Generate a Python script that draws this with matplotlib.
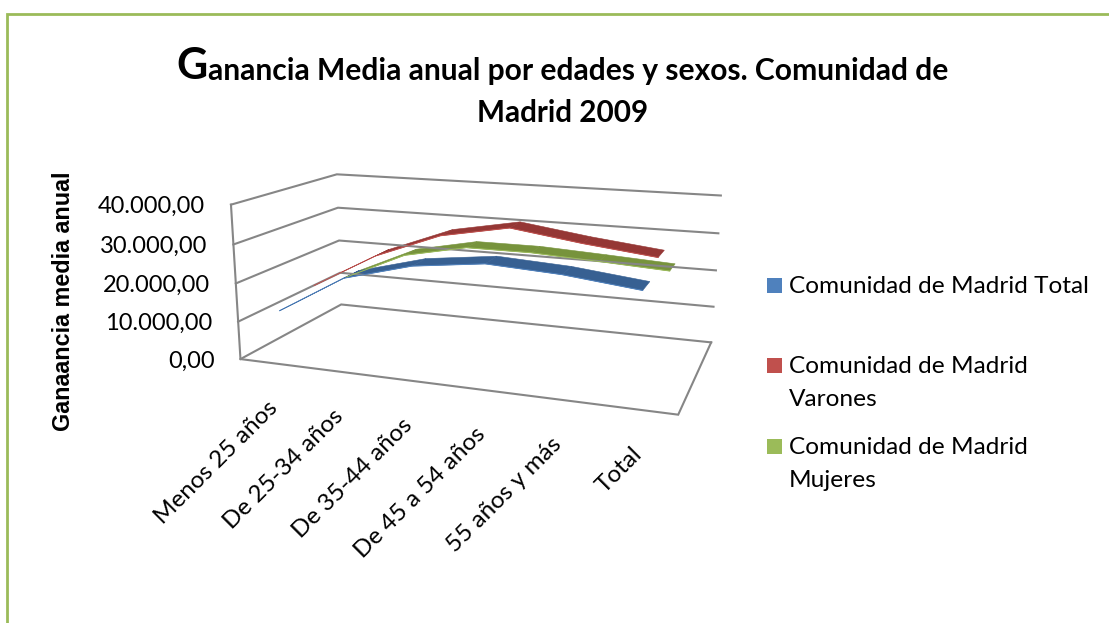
import numpy as np
import matplotlib
matplotlib.use("Agg")
import matplotlib.pyplot as plt
from matplotlib.patches import Rectangle

# chart values
categories = ['Menos 25 años', 'De 25-34 años', 'De 35-44 años',
              'De 45 a 54 años', '55 años y más', 'Total']
madrid_total = [13800, 23700, 28200, 30200, 29200, 27200]
madrid_varones = [16000, 25400, 32000, 35200, 32700, 30700]
madrid_mujeres = [14000, 21700, 25200, 25200, 24300, 23300]
value_ticks = [0, 10000, 20000, 30000, 40000]
tick_labels = ['0,00', '10.000,00', '20.000,00', '30.000,00', '40.000,00']
VMAX = 40000

W, H = 1109, 623
GREY = '#868686'

# camera: pixel position of known box points (x along axis, depth, value/VMAX)
box_world = [(0, 0, 0), (0, 0, .25), (0, 0, .5), (0, 0, .75), (0, 0, 1),
             (0, 1, 0), (0, 1, .25), (0, 1, .5), (0, 1, .75), (0, 1, 1),
             (1, 1, 0), (1, 1, .25), (1, 1, .5), (1, 1, .75), (1, 1, 1),
             (1, 0, 0)]
box_pixel = [(240, 360), (239, 321), (236, 283), (234, 244), (230, 205),
             (341, 304), (340, 273), (339, 241), (338, 208), (337, 174),
             (711, 342), (714, 307), (716, 270), (718, 233), (721, 196),
             (678, 415)]


def fit_camera(world, pixel):
    """Direct linear transform, gives the 3x4 perspective matrix."""
    rows = []
    for (a, b, c), (u, v) in zip(world, pixel):
        rows.append([a, b, c, 1, 0, 0, 0, 0, -u*a, -u*b, -u*c, -u])
        rows.append([0, 0, 0, 0, a, b, c, 1, -v*a, -v*b, -v*c, -v])
    _, _, vt = np.linalg.svd(np.array(rows, dtype=float))
    return vt[-1].reshape(3, 4)


CAM = fit_camera(box_world, box_pixel)


def project(x, depth, value):
    p = CAM @ np.array([x, depth, value / VMAX, 1.0])
    return p[0] / p[2], p[1] / p[2]


fig = plt.figure(figsize=(W / 100, H / 100), dpi=100)
ax = fig.add_axes([0, 0, 1, 1])
ax.set_xlim(0, W)
ax.set_ylim(H, 0)
ax.axis('off')

# chart border
ax.plot([7, 7, W + 5], [H + 5, 13.5, 13.5], color='#9bbb59', lw=2, solid_joinstyle='miter')

# title
ax.text(176, 79, 'G', fontsize=31, fontweight='bold', family='Lato', color='black', va='baseline')
ax.text(208, 80, 'anancia Media anual por edades y sexos. Comunidad de', fontsize=21.6,
        fontweight='bold', family='Lato', color='black', va='baseline')
ax.text(563, 122, 'Madrid 2009', fontsize=21.3, fontweight='bold', family='Lato',
        color='black', ha='center', va='baseline')

# walls and floor
for v in value_ticks:
    pts = [project(0, 0, v), project(0, 1, v), project(1, 1, v)]
    ax.plot(*zip(*pts), color=GREY, lw=1.5, solid_joinstyle='miter')
pts = [project(0, 0, VMAX), project(0, 0, 0), project(1, 0, 0), project(1, 1, 0)]
ax.plot(*zip(*pts), color=GREY, lw=1.5, solid_joinstyle='miter')

# y tick labels
for v, lab in zip(value_ticks, tick_labels):
    px, py = project(0, 0, v)
    ax.text(px - 26, py + 2, lab, fontsize=17, family='Lato', ha='right', va='center', color='black')

ax.text(63, 301, 'Ganaancia media anual', rotation=90, fontsize=16.8, fontweight='bold',
        family='Liberation Sans', ha='center', va='center', color='black')

# category labels
n = len(categories)
label_x = [(i + 0.5) / n for i in range(n)]
for xp, lab in zip(label_x, categories):
    px, py = project(xp, 0, 0)
    ax.text(px - 5, py + 34, lab, rotation=45, rotation_mode='anchor', fontsize=17.5, family='Lato',
            ha='right', va='top', color='black')

# the ribbons sit a bit tighter than the labels
xpos = np.linspace(0.105, 0.917, n)

# ribbons, back to front
series = [(madrid_mujeres, 0.74, '#77933c', '#9bbb59'),
          (madrid_varones, 0.41, '#953735', '#c0504d'),
          (madrid_total, 0.09, '#376092', '#4f81bd')]
HALF = 0.075
for values, depth, face, edge in series:
    for i in range(n - 1):
        poly = [project(xpos[i], depth - HALF, values[i]),
                project(xpos[i + 1], depth - HALF, values[i + 1]),
                project(xpos[i + 1], depth + HALF, values[i + 1]),
                project(xpos[i], depth + HALF, values[i])]
        ax.fill(*zip(*poly), facecolor=face, edgecolor=face, lw=0.4)
    front = [project(xp, depth - HALF, v) for xp, v in zip(xpos, values)]
    ax.plot(*zip(*front), color=edge, lw=0.7)

# legend
legend_rows = [('#4f81bd', 278, ['Comunidad de Madrid Total'], [293]),
               ('#c0504d', 358, ['Comunidad de Madrid', 'Varones'], [373, 406]),
               ('#9bbb59', 439, ['Comunidad de Madrid', 'Mujeres'], [454, 487])]
for color, top, lines, baselines in legend_rows:
    ax.add_patch(Rectangle((767, top), 15, 15, facecolor=color, edgecolor='none'))
    for line, base in zip(lines, baselines):
        ax.text(789, base, line, fontsize=17.6, family='Lato', va='baseline', color='black')

fig.savefig('out.png', dpi=100, facecolor='white')
